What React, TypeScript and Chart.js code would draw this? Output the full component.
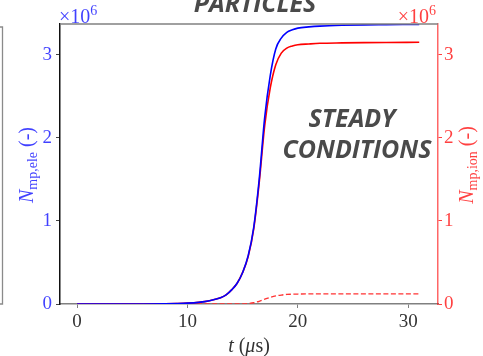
import { useEffect, useRef } from 'react';
import { Chart, registerables } from 'chart.js';

Chart.register(...registerables);

// time in microseconds
const timeUs = [0, 2, 4, 6, 8, 9, 10, 11, 12, 13, 13.5, 14, 14.5, 15, 15.5, 16, 16.5, 17, 17.5, 18, 18.5, 19, 19.5, 20, 21, 22, 24, 26, 28, 31];
// number of macro-particles (x 10^6)
const nEle = [0, 0, 0, 0, 0.002, 0.005, 0.01, 0.02, 0.04, 0.075, 0.11, 0.17, 0.25, 0.38, 0.58, 0.92, 1.5, 2.25, 2.75, 3.07, 3.2, 3.27, 3.3, 3.32, 3.335, 3.345, 3.355, 3.36, 3.362, 3.365];
const nIon = [0, 0, 0, 0, 0.002, 0.005, 0.01, 0.02, 0.04, 0.075, 0.11, 0.17, 0.25, 0.38, 0.57, 0.9, 1.46, 2.15, 2.6, 2.88, 3.02, 3.08, 3.105, 3.12, 3.13, 3.138, 3.143, 3.146, 3.148, 3.15];
const nIonAux = [0, 0, 0, 0, 0, 0, 0, 0, 0, 0, 0, 0, 0, 0.001, 0.006, 0.015, 0.033, 0.058, 0.08, 0.097, 0.108, 0.115, 0.118, 0.12, 0.121, 0.121, 0.121, 0.121, 0.121, 0.121];

const xTicks = [0, 10, 20, 30];
const yTicks = [0, 1, 2, 3];

const SERIF = '"Liberation Serif", "DejaVu Serif", serif';
const BLUE_TXT = 'rgba(0,0,255,0.75)';
const RED_TXT = 'rgba(255,0,0,0.75)';

type Part = { t: string; font: string; dy: number };

function drawRich(ctx: CanvasRenderingContext2D, parts: Part[], x: number, y: number, align: 'center' | 'left' | 'right') {
  let w = 0;
  const widths = parts.map((p) => {
    ctx.font = p.font;
    const m = ctx.measureText(p.t).width;
    w += m;
    return m;
  });
  let cx = align === 'center' ? x - w / 2 : align === 'right' ? x - w : x;
  ctx.textAlign = 'left';
  ctx.textBaseline = 'alphabetic';
  parts.forEach((p, i) => {
    ctx.font = p.font;
    ctx.fillText(p.t, cx, y + p.dy);
    cx += widths[i];
  });
}

const overlayPlugin = {
  id: 'overlay',
  afterDraw(chart: any) {
    const ctx: CanvasRenderingContext2D = chart.ctx;
    const a = chart.chartArea;
    ctx.save();
    // top spine
    ctx.strokeStyle = '#808080';
    ctx.lineWidth = 1.5;
    ctx.beginPath();
    ctx.moveTo(a.left, a.top);
    ctx.lineTo(a.right, a.top);
    ctx.stroke();

    // partial frame of neighbouring panel
    ctx.strokeStyle = '#8a8a8a';
    ctx.lineWidth = 1.3;
    ctx.beginPath();
    ctx.moveTo(0, 27);
    ctx.lineTo(2.5, 27);
    ctx.lineTo(2.5, 304);
    ctx.lineTo(0, 304);
    ctx.stroke();

    // exponent labels
    ctx.fillStyle = BLUE_TXT;
    drawRich(ctx, [
      { t: '×10', font: `20px ${SERIF}`, dy: 0 },
      { t: '6', font: `14px ${SERIF}`, dy: -8 },
    ], 59, 22.5, 'left');
    ctx.fillStyle = RED_TXT;
    drawRich(ctx, [
      { t: '×10', font: `20px ${SERIF}`, dy: 0 },
      { t: '6', font: `14px ${SERIF}`, dy: -8 },
    ], 436, 22.5, 'right');

    // left axis title
    ctx.fillStyle = BLUE_TXT;
    ctx.save();
    ctx.translate(33, 165);
    ctx.rotate(-Math.PI / 2);
    drawRich(ctx, [
      { t: 'N', font: `italic 20px ${SERIF}`, dy: 0 },
      { t: 'mp,ele', font: `14px ${SERIF}`, dy: 4 },
      { t: ' (-)', font: `20px ${SERIF}`, dy: 0 },
    ], 0, 0, 'center');
    ctx.restore();

    // right axis title
    ctx.fillStyle = RED_TXT;
    ctx.save();
    ctx.translate(473, 165);
    ctx.rotate(-Math.PI / 2);
    drawRich(ctx, [
      { t: 'N', font: `italic 20px ${SERIF}`, dy: 0 },
      { t: 'mp,ion', font: `14px ${SERIF}`, dy: 4 },
      { t: ' (-)', font: `20px ${SERIF}`, dy: 0 },
    ], 0, 0, 'center');
    ctx.restore();

    // x axis title
    ctx.fillStyle = '#333';
    drawRich(ctx, [
      { t: 't', font: `italic 20px ${SERIF}`, dy: 0 },
      { t: ' (', font: `20px ${SERIF}`, dy: 0 },
      { t: 'μ', font: `italic 20px ${SERIF}`, dy: 0 },
      { t: 's)', font: `20px ${SERIF}`, dy: 0 },
    ], 249, 352, 'center');

    // annotations
    ctx.fillStyle = '#4a4a4a';
    ctx.textAlign = 'center';
    ctx.textBaseline = 'alphabetic';
    ctx.font = 'italic bold 25px "Open Sans", "Noto Sans", sans-serif';
    ctx.fillText('PARTICLES', 255, 12);
    ctx.fillText('STEADY', 352, 127);
    ctx.fillText('CONDITIONS', 357, 158);
    ctx.restore();
  },
};

export default function App() {
  const ref = useRef<HTMLCanvasElement | null>(null);

  useEffect(() => {
    document.body.style.margin = '0';
    if (!ref.current) return;
    const mk = (ys: number[]) => timeUs.map((t, i) => ({ x: t, y: ys[i] }));
    const chart = new Chart(ref.current, {
      type: 'line',
      data: {
        datasets: [
          {
            data: mk(nEle),
            yAxisID: 'y',
            borderColor: '#0000ff',
            borderWidth: 1.6,
            pointRadius: 0,
            cubicInterpolationMode: 'monotone',
          },
          {
            data: mk(nIon),
            yAxisID: 'y2',
            borderColor: '#ff0000',
            borderWidth: 1.6,
            pointRadius: 0,
            cubicInterpolationMode: 'monotone',
          },
          {
            data: mk(nIonAux),
            yAxisID: 'y2',
            borderColor: '#ff3333',
            borderWidth: 1.3,
            borderDash: [5, 2.5],
            pointRadius: 0,
            cubicInterpolationMode: 'monotone',
          },
        ],
      },
      options: {
        responsive: false,
        animation: false,
        layout: { padding: { top: 24, left: 0, right: 0, bottom: 0 } },
        plugins: { legend: { display: false }, tooltip: { enabled: false } },
        scales: {
          x: {
            type: 'linear',
            min: -1.55,
            max: 32.7,
            afterBuildTicks: (s: any) => {
              s.ticks = xTicks.map((v) => ({ value: v }));
            },
            afterFit: (s: any) => {
              s.height = 52;
            },
            ticks: {
              font: { family: SERIF, size: 19 },
              color: '#333',
              padding: 3,
              maxRotation: 0,
              autoSkip: false,
              callback: (v: any) => String(v),
            },
            grid: { drawOnChartArea: false, tickLength: 4, color: '#808080', lineWidth: 1 },
            border: { color: '#808080', width: 1.5 },
          },
          y: {
            type: 'linear',
            position: 'left',
            min: 0,
            max: 3.37,
            afterBuildTicks: (s: any) => {
              s.ticks = yTicks.map((v) => ({ value: v }));
            },
            afterFit: (s: any) => {
              s.width = 60;
            },
            ticks: {
              font: { family: SERIF, size: 19 },
              color: BLUE_TXT,
              padding: 4,
              callback: (v: any) => String(v),
            },
            grid: { drawOnChartArea: false, tickLength: 4, color: '#444', lineWidth: 1 },
            border: { color: '#111', width: 1.5 },
          },
          y2: {
            type: 'linear',
            position: 'right',
            min: 0,
            max: 3.37,
            afterBuildTicks: (s: any) => {
              s.ticks = yTicks.map((v) => ({ value: v }));
            },
            afterFit: (s: any) => {
              s.width = 45;
            },
            ticks: {
              font: { family: SERIF, size: 19 },
              color: RED_TXT,
              padding: 2,
              callback: (v: any) => String(v),
            },
            grid: { drawOnChartArea: false, tickLength: 4, color: RED_TXT, lineWidth: 1 },
            border: { color: 'rgba(255,0,0,0.6)', width: 1.5 },
          },
        },
      },
      plugins: [overlayPlugin],
    });
    return () => chart.destroy();
  }, []);

  return (
    <div style={{ position: 'absolute', left: 0, top: 0, width: 483, height: 356 }}>
      <canvas ref={ref} width={483} height={356} style={{ display: 'block' }} />
    </div>
  );
}
